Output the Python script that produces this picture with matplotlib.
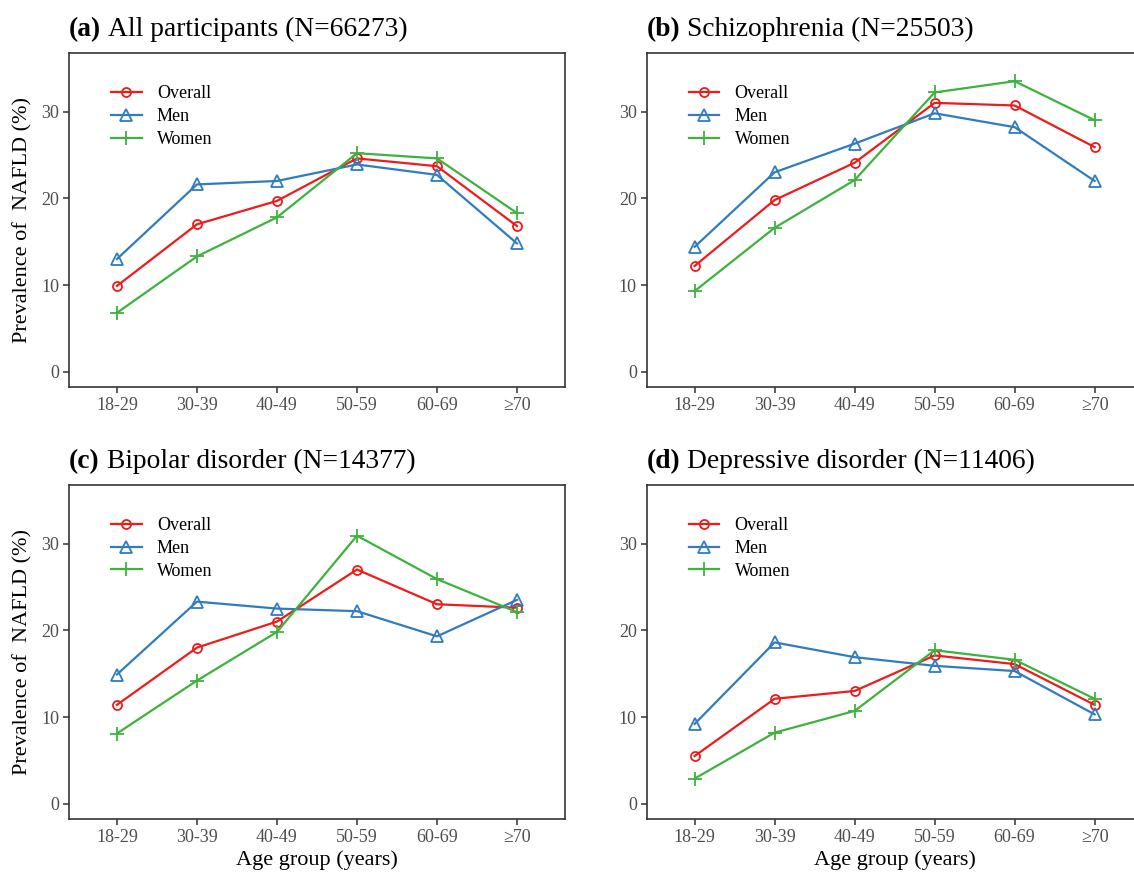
import matplotlib
matplotlib.use("Agg")
import matplotlib.pyplot as plt

plt.rcParams['font.family'] = ['Liberation Serif', 'DejaVu Serif']

# age groups on the x axis
age_groups = ['18-29', '30-39', '40-49', '50-59', '60-69', '\u226570']
series_names = ['Overall', 'Men', 'Women']

# panel titles
panel_tags = ['(a)', '(b)', '(c)', '(d)']
panel_titles = ['All participants (N=66273)', 'Schizophrenia (N=25503)',
                'Bipolar disorder (N=14377)', 'Depressive disorder (N=11406)']

# prevalence of NAFLD (%)
all_overall = [9.9, 17.0, 19.7, 24.6, 23.7, 16.8]
all_men = [13.0, 21.6, 22.0, 23.9, 22.7, 14.8]
all_women = [6.8, 13.3, 17.8, 25.2, 24.6, 18.3]

scz_overall = [12.2, 19.8, 24.1, 31.0, 30.7, 25.9]
scz_men = [14.4, 23.0, 26.3, 29.8, 28.2, 22.0]
scz_women = [9.3, 16.6, 22.1, 32.2, 33.5, 29.0]

bip_overall = [11.4, 18.0, 21.0, 27.0, 23.0, 22.6]
bip_men = [14.9, 23.3, 22.5, 22.2, 19.3, 23.5]
bip_women = [8.1, 14.2, 19.8, 30.9, 25.9, 22.1]

dep_overall = [5.5, 12.1, 13.0, 17.1, 16.1, 11.4]
dep_men = [9.2, 18.6, 16.9, 15.9, 15.3, 10.3]
dep_women = [2.9, 8.2, 10.7, 17.7, 16.6, 12.1]

panels = [
    (all_overall, all_men, all_women),
    (scz_overall, scz_men, scz_women),
    (bip_overall, bip_men, bip_women),
    (dep_overall, dep_men, dep_women),
]

colors = ['#EE1B1B', '#2F7CC0', '#3DB33D']
markers = ['o', '^', '+']
msizes = [6.5, 8, 10]

fig = plt.figure(figsize=(11.34, 8.73), dpi=100)

# axes positions in figure fraction [left, bottom, width, height]
W, H = 0.4374, 0.3826
positions = [
    [0.0608, 0.5567, W, H],
    [0.5702, 0.5567, W, H],
    [0.0608, 0.0619, W, H],
    [0.5702, 0.0619, W, H],
]

axes = []
for i, (pos, data) in enumerate(zip(positions, panels)):
    ax = fig.add_axes(pos)
    axes.append(ax)
    x = list(range(len(age_groups)))
    for vals, name, col, mk, ms in zip(data, series_names, colors, markers, msizes):
        ax.plot(x, vals, color=col, lw=1.6, marker=mk, ms=ms,
                mfc='none', mec=col, mew=1.3, label=name)
    ax.set_xlim(-0.6, 5.6)
    ax.set_ylim(-1.75, 36.75)
    ax.set_xticks(x)
    ax.set_xticklabels(age_groups)
    ax.set_yticks([0, 10, 20, 30])
    ax.tick_params(axis='both', direction='out', length=4, width=1.1,
                   color='#333333', labelsize=13, labelcolor='#4D4D4D', pad=3)
    for s in ax.spines.values():
        s.set_color('#333333')
        s.set_linewidth(1.2)
    ax.legend(loc='upper left', bbox_to_anchor=(0.07, 0.926), frameon=False,
              fontsize=13, handlelength=1.7, handletextpad=0.85,
              labelspacing=0.33, borderaxespad=0)
    if i in (0, 2):
        ax.set_ylabel('Prevalence of  NAFLD (%)', fontsize=16)
        ax.yaxis.set_label_coords(-0.073, 0.5)
    if i in (2, 3):
        ax.set_xlabel('Age group (years)', fontsize=16)
        ax.xaxis.set_label_coords(0.5, -0.093)

# panel titles: bold tag + plain text
fig.canvas.draw()
renderer = fig.canvas.get_renderer()
for ax, tag, title in zip(axes, panel_tags, panel_titles):
    t = ax.text(0.0, 1.05, tag, transform=ax.transAxes, fontsize=19.8,
                fontweight='bold', ha='left', va='baseline')
    bb = t.get_window_extent(renderer=renderer)
    inv = ax.transAxes.inverted()
    x_end = inv.transform((bb.x1 + 7, bb.y0))[0]
    ax.text(x_end, 1.05, title, transform=ax.transAxes, fontsize=19.8,
            ha='left', va='baseline')

fig.savefig('out.png', dpi=100)
